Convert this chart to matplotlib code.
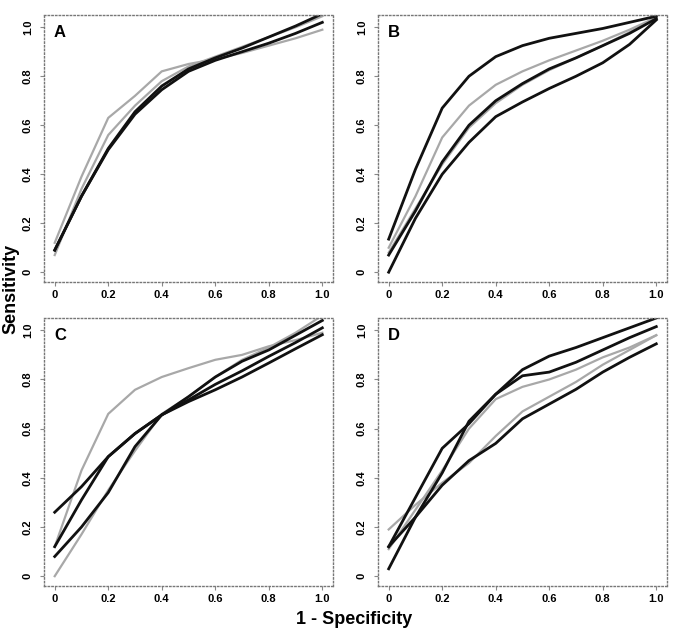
import matplotlib
matplotlib.use("Agg")
import matplotlib.pyplot as plt

plt.rcParams["font.family"] = ["Liberation Sans", "DejaVu Sans"]
plt.rcParams["font.weight"] = "bold"

# false positive rate grid shared by all curves
fpr = [0.0, 0.1, 0.2, 0.3, 0.4, 0.5, 0.6, 0.7, 0.8, 0.9, 1.0]

# panel A
A_black1 = [0.09, 0.31, 0.50, 0.645, 0.745, 0.82, 0.865, 0.90, 0.935, 0.975, 1.02]
A_black2 = [0.09, 0.31, 0.505, 0.655, 0.76, 0.83, 0.875, 0.915, 0.96, 1.005, 1.055]
A_gray1 = [0.12, 0.39, 0.63, 0.72, 0.82, 0.85, 0.87, 0.895, 0.925, 0.955, 0.99]
A_gray2 = [0.07, 0.34, 0.56, 0.68, 0.78, 0.84, 0.88, 0.92, 0.96, 1.0, 1.045]

# panel B
B_black1 = [0.135, 0.42, 0.67, 0.80, 0.88, 0.925, 0.955, 0.975, 0.995, 1.02, 1.045]
B_gray1 = [0.10, 0.31, 0.55, 0.68, 0.765, 0.82, 0.865, 0.905, 0.945, 0.99, 1.04]
B_black2 = [0.07, 0.25, 0.45, 0.60, 0.70, 0.77, 0.83, 0.875, 0.925, 0.975, 1.035]
B_gray2 = [0.08, 0.26, 0.44, 0.59, 0.69, 0.765, 0.825, 0.875, 0.925, 0.98, 1.04]
B_black3 = [0.00, 0.22, 0.40, 0.53, 0.635, 0.695, 0.75, 0.80, 0.855, 0.93, 1.03]

# panel C
C_black1 = [0.26, 0.364, 0.486, 0.58, 0.656, 0.71, 0.758, 0.81, 0.867, 0.925, 0.982]
C_black2 = [0.12, 0.31, 0.486, 0.58, 0.656, 0.73, 0.81, 0.874, 0.92, 0.98, 1.04]
C_black3 = [0.08, 0.20, 0.34, 0.527, 0.656, 0.717, 0.78, 0.835, 0.894, 0.95, 1.01]
C_gray1 = [0.12, 0.43, 0.66, 0.758, 0.81, 0.846, 0.88, 0.90, 0.935, 0.96, 0.99]
C_gray2 = [0.0, 0.17, 0.35, 0.51, 0.66, 0.73, 0.81, 0.88, 0.93, 0.99, 1.06]

# panel D
D_black1 = [0.12, 0.32, 0.52, 0.62, 0.74, 0.84, 0.895, 0.93, 0.97, 1.01, 1.05]
D_black2 = [0.12, 0.24, 0.42, 0.63, 0.74, 0.815, 0.83, 0.87, 0.92, 0.97, 1.015]
D_black3 = [0.03, 0.24, 0.37, 0.47, 0.54, 0.64, 0.70, 0.76, 0.83, 0.89, 0.945]
D_gray1 = [0.19, 0.29, 0.38, 0.46, 0.57, 0.67, 0.73, 0.79, 0.86, 0.92, 0.98]
D_gray2 = [0.11, 0.27, 0.43, 0.60, 0.72, 0.77, 0.80, 0.84, 0.89, 0.93, 0.98]

ticks = [0, 0.2, 0.4, 0.6, 0.8, 1.0]
tick_labels = ["0", "0.2", "0.4", "0.6", "0.8", "1.0"]

panels = [
    ("A", [A_gray1, A_gray2], [A_black1, A_black2]),
    ("B", [B_gray1, B_gray2], [B_black1, B_black2, B_black3]),
    ("C", [C_gray1, C_gray2], [C_black1, C_black2, C_black3]),
    ("D", [D_gray1, D_gray2], [D_black1, D_black2, D_black3]),
]

fig = plt.figure(figsize=(6.74, 6.36), dpi=100)
positions = [
    [0.0653, 0.5566, 0.4288, 0.4198],
    [0.5608, 0.5566, 0.4288, 0.4198],
    [0.0653, 0.0786, 0.4288, 0.4214],
    [0.5608, 0.0786, 0.4288, 0.4214],
]

for (letter, grays, blacks), pos in zip(panels, positions):
    ax = fig.add_axes(pos)
    for g in grays:
        ax.plot(fpr, g, color="#a8a8a8", lw=1.6, solid_joinstyle="round")
    for b in blacks:
        ax.plot(fpr, b, color="#111111", lw=2.0, solid_joinstyle="round")
    ax.set_xlim(-0.04, 1.04)
    ax.set_ylim(-0.04, 1.05)
    ax.set_xticks(ticks)
    ax.set_xticklabels(tick_labels, fontsize=8, fontweight="bold")
    ax.set_yticks(ticks)
    ax.set_yticklabels(tick_labels, fontsize=8, fontweight="bold",
                       rotation=90, va="center")
    ax.tick_params(direction="out", length=3, width=0.8, color="#888888",
                   pad=3)
    ax.tick_params(axis="y", pad=5)
    for sp in ax.spines.values():
        sp.set_linestyle(":")
        sp.set_color("#777777")
        sp.set_linewidth(1.0)
    ax.text(0.055, 0.933, letter, transform=ax.transAxes, fontsize=12,
            fontweight="bold", ha="center", va="center")

fig.text(0.016, 0.546, "Sensitivity", rotation=90, fontsize=13,
         fontweight="bold", ha="center", va="center")
fig.text(0.525, 0.026, "1 - Specificity", fontsize=13,
         fontweight="bold", ha="center", va="center")

fig.savefig("out.png", dpi=100)
